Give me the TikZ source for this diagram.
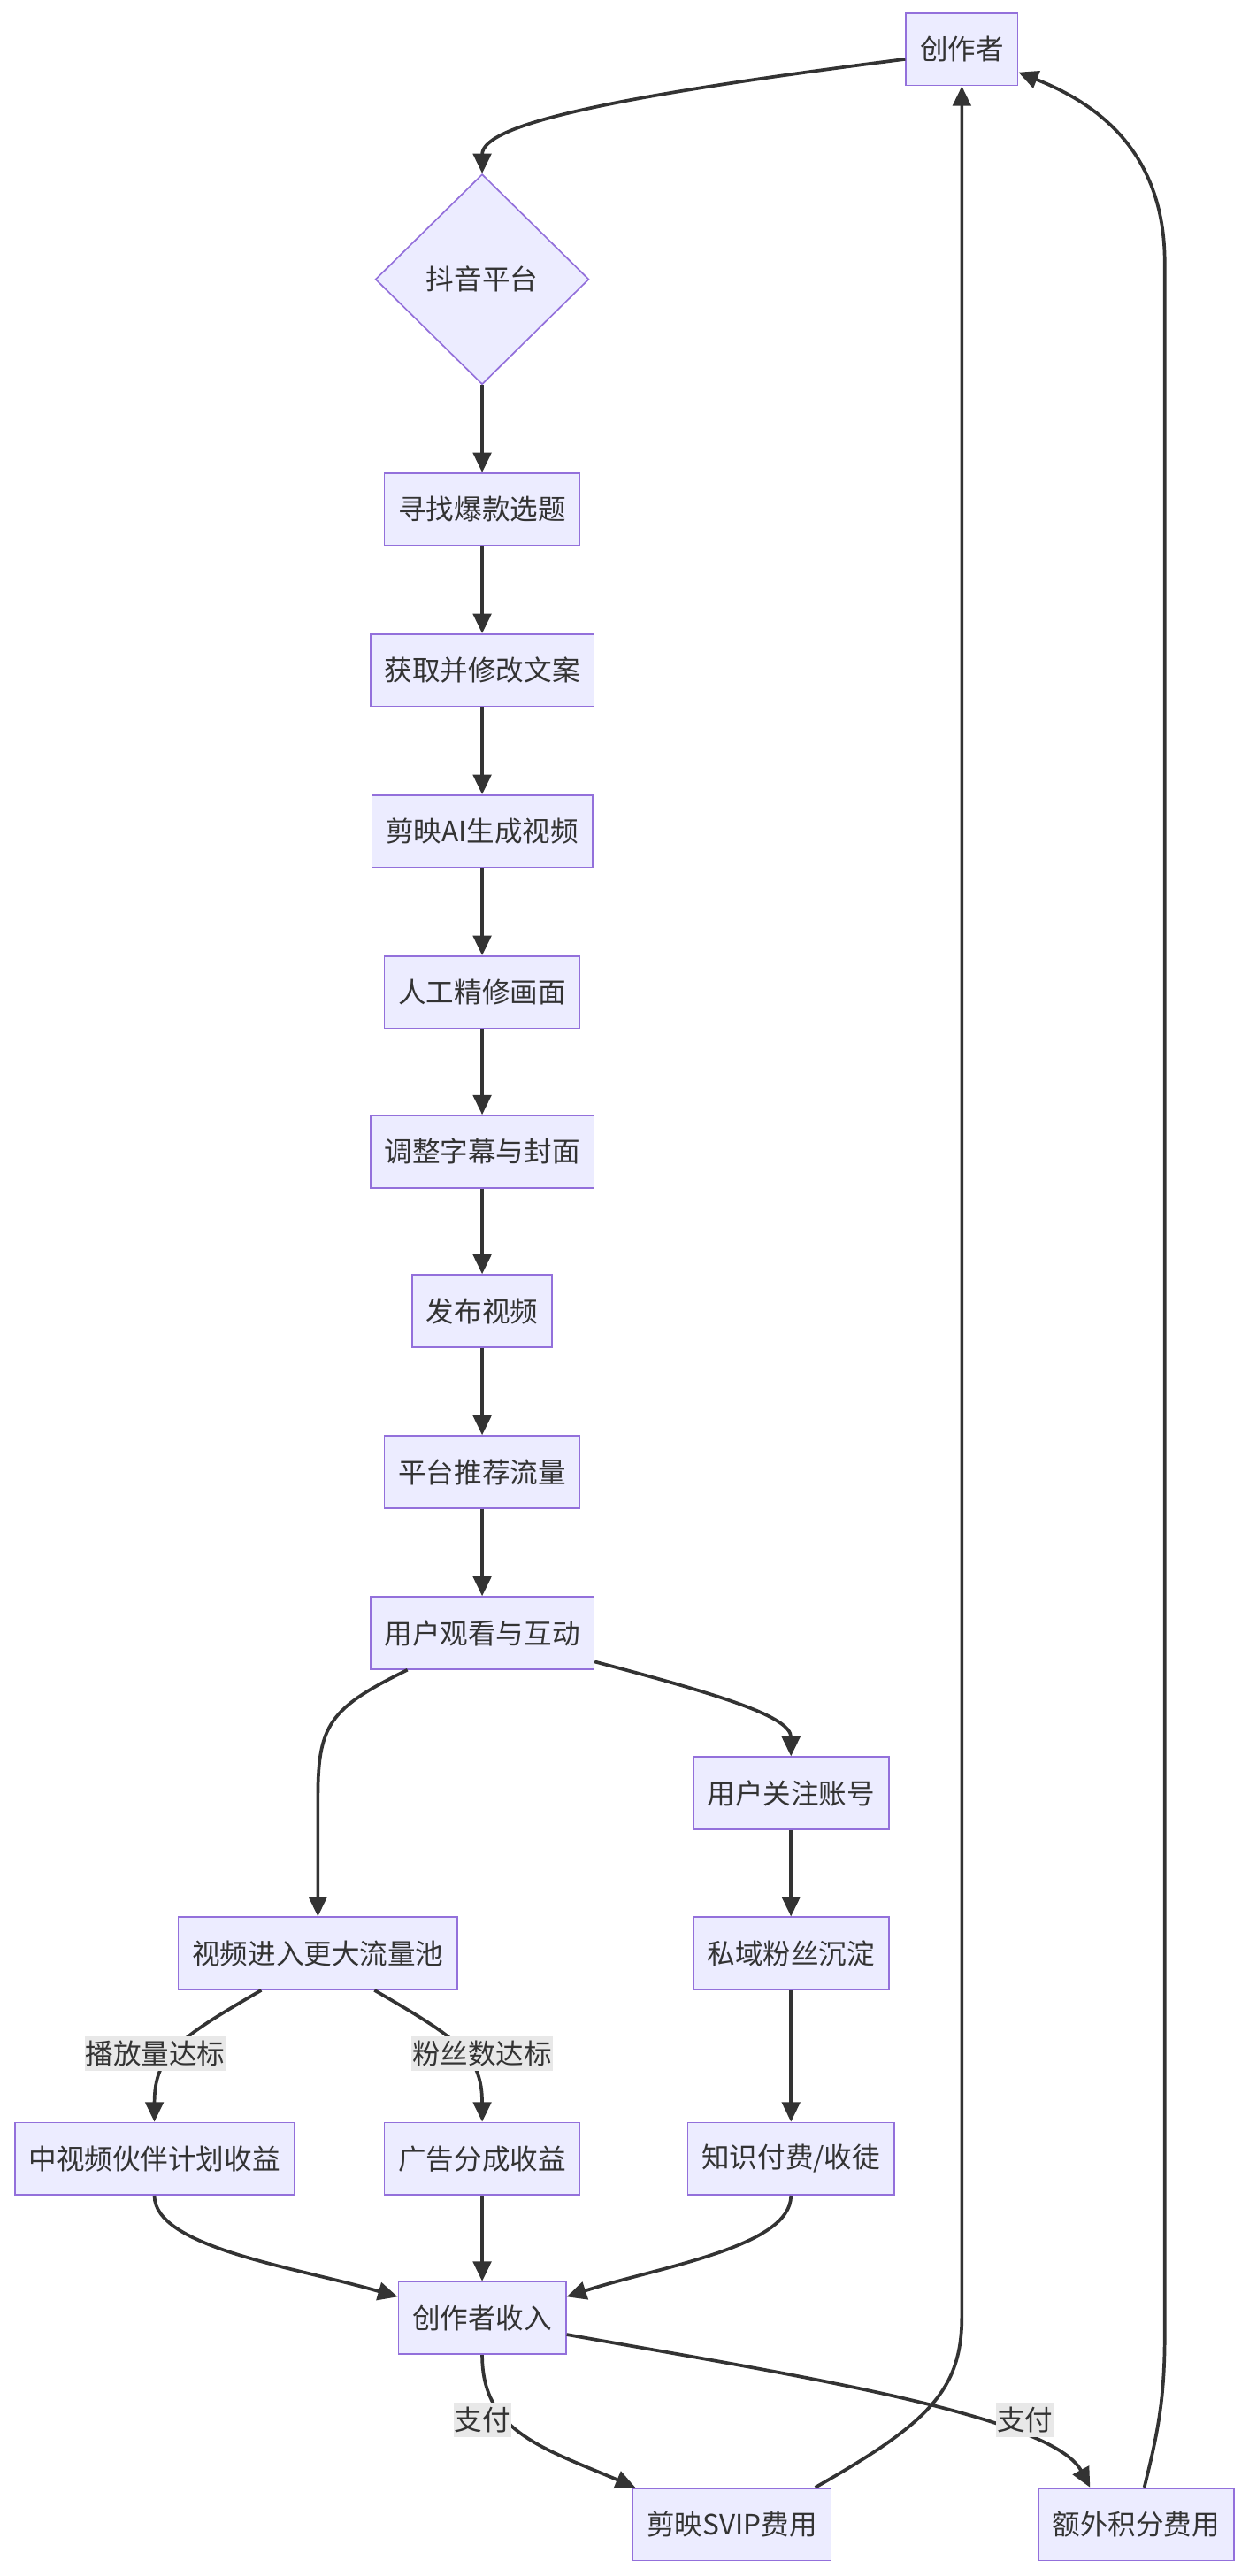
\documentclass[tikz,border=0pt]{standalone}
\usepackage{fontspec}
\setmainfont{Noto Sans CJK SC}
\usetikzlibrary{arrows.meta,shapes.geometric,calc}
\definecolor{nfill}{HTML}{ECECFF}
\definecolor{nstroke}{HTML}{9370DB}
\definecolor{edgec}{HTML}{333333}
\definecolor{lblbg}{HTML}{E8E8E8}
\begin{document}
\begin{tikzpicture}[x=1pt,y=-1pt,
  txt/.style={text=edgec, font=\fontsize{17}{20}\selectfont},
  box/.style={txt, draw=nstroke, fill=nfill, line width=0.9pt, minimum height=44pt, inner xsep=8.5pt, inner ysep=0pt},
  dia/.style={txt, diamond, draw=nstroke, fill=nfill, line width=0.9pt, minimum width=130pt, minimum height=128pt, inner sep=0pt},
  lbl/.style={txt, fill=lblbg, inner xsep=0.5pt, inner ysep=0pt, minimum height=21pt},
  arr/.style={draw=edgec, line width=2pt, -{Triangle[length=12pt,width=11pt]}},
]
\useasboundingbox[fill=white] (0,0) rectangle (760,1568);

\node[box] (cre) at (585.5,30) {创作者};
\node[dia] (dy) at (293.5,170) {抖音平台};
\node[box] (n1) at (293.5,310) {寻找爆款选题};
\node[box] (n2) at (293.5,408) {获取并修改文案};
\node[box] (n3) at (293.5,506) {剪映AI生成视频};
\node[box] (n4) at (293.5,604) {人工精修画面};
\node[box] (n5) at (293.5,701) {调整字幕与封面};
\node[box] (n6) at (293.5,798) {发布视频};
\node[box] (n7) at (293.5,896) {平台推荐流量};
\node[box] (n8) at (293.5,994) {用户观看与互动};
\node[box] (fol) at (481.5,1091.5) {用户关注账号};
\node[box] (pool) at (193.5,1189) {视频进入更大流量池};
\node[box] (priv) at (481.5,1189) {私域粉丝沉淀};
\node[box] (mid) at (94,1314) {中视频伙伴计划收益};
\node[box] (ad) at (293.5,1314) {广告分成收益};
\node[box] (know) at (481.5,1314) {知识付费/收徒};
\node[box] (inc) at (293.5,1411) {创作者收入};
\node[box] (svip) at (445.5,1536.5) {剪映SVIP费用};
\node[box] (pts) at (691.5,1536.5) {额外积分费用};

\draw[arr] ($(cre.west)+(0,6)$) .. controls (370,59) and (293.5,76) .. (dy.north);
\draw[arr] (dy.south) -- (n1.north);
\draw[arr] (n1.south) -- (n2.north);
\draw[arr] (n2.south) -- (n3.north);
\draw[arr] (n3.south) -- (n4.north);
\draw[arr] (n4.south) -- (n5.north);
\draw[arr] (n5.south) -- (n6.north);
\draw[arr] (n6.south) -- (n7.north);
\draw[arr] (n7.south) -- (n8.north);
\draw[arr] ($(n8.south west)+(23,0)$) .. controls (200,1040) and (193.5,1050) .. (193.5,1095) -- (pool.north);
\draw[arr] ($(n8.south east)+(0,-5)$) .. controls (440,1032) and (481.5,1045) .. (fol.north);
\draw[arr] (fol.south) -- (priv.north);
\draw[arr] ($(pool.south west)+(51,0)$) .. controls (110,1240) and (94,1250) .. (mid.north);
\draw[arr] ($(pool.south east)+(-51,0)$) .. controls (277,1240) and (293.5,1250) .. (ad.north);
\draw[arr] (priv.south) -- (know.north);
\draw[arr] (mid.south) .. controls (94,1368) and (180,1380) .. ($(inc.west)+(0,-13)$);
\draw[arr] (ad.south) -- (inc.north);
\draw[arr] (know.south) .. controls (481.5,1368) and (400,1380) .. ($(inc.east)+(0,-13)$);
\draw[arr] (inc.south) .. controls (293.5,1480) and (330,1490) .. ($(svip.north west)+(2,0)$);
\draw[arr] ($(inc.east)+(0,10)$) .. controls (480,1445) and (640,1470) .. ($(pts.north west)+(32,0)$);
\draw[arr] ($(svip.north east)+(-10,0)$) .. controls (565,1475) and (585.5,1455) .. (585.5,1410) -- (cre.south);
\draw[arr] ($(pts.north west)+(65,0)$) .. controls (705,1480) and (709,1460) .. (709,1420) -- (709,160) .. controls (709,90) and (665,62) .. ($(cre.east)+(0,14)$);

\node[lbl] (l1) at (94.5,1250) {播放量达标};
\node[lbl] (l2) at (293.5,1250) {粉丝数达标};
\node[lbl] (l3) at (293.5,1473) {支付};
\node[lbl] (l4) at (624,1473) {支付};
\end{tikzpicture}
\end{document}
